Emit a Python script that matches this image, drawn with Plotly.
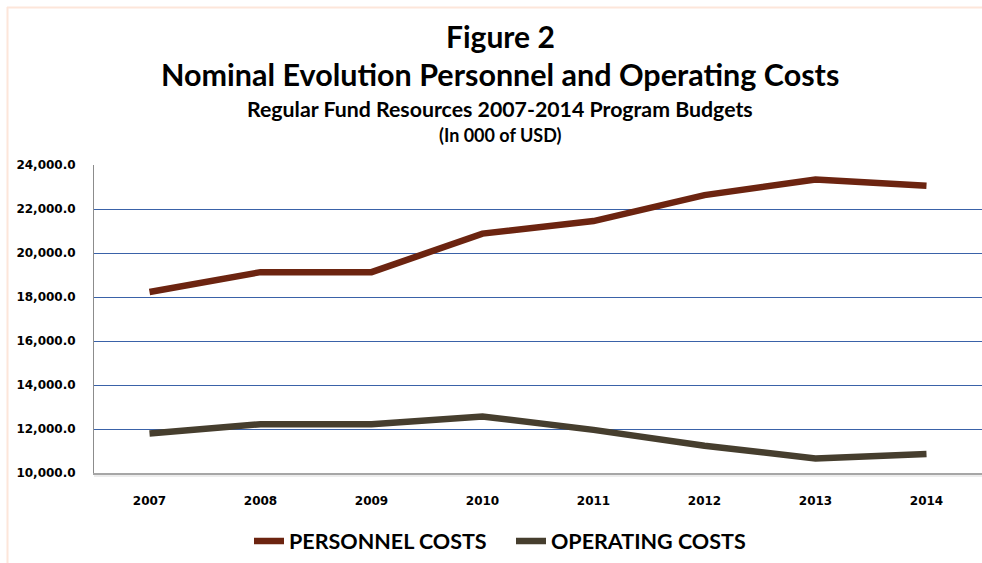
import plotly.graph_objects as go

years = ["2007", "2008", "2009", "2010", "2011", "2012", "2013", "2014"]
personnel_costs = [18230, 19130, 19130, 20880, 21450, 22630, 23340, 23060]
operating_costs = [11800, 12220, 12220, 12570, 11960, 11240, 10660, 10860]
y_ticks = [10000, 12000, 14000, 16000, 18000, 20000, 22000, 24000]
y_tick_labels = ["10,000.0", "12,000.0", "14,000.0", "16,000.0", "18,000.0", "20,000.0", "22,000.0", "24,000.0"]

W, H = 982, 563
L, R, T, B = 94, 0, 165, 90
PW, PH = W - L - R, H - T - B
TITLE_FONT = "Lato"

fig = go.Figure()
fig.add_trace(go.Scatter(x=years, y=personnel_costs, mode="lines", name="PERSONNEL COSTS",
                         line=dict(color="#6c2410", width=6.5)))
fig.add_trace(go.Scatter(x=years, y=operating_costs, mode="lines", name="OPERATING COSTS",
                         line=dict(color="#463e2e", width=6.5)))


def pyf(yp):
    return (H - B - yp) / PH


def pxf(xp):
    return (xp - L) / PW


annos = [
    ("<b>Figure 2</b>", 35.5, 30),
    ("<b>Nominal Evolution Personnel and Operating Costs</b>", 74, 30.5),
    ("<b>Regular Fund Resources 2007-2014 Program Budgets</b>", 109, 21.3),
    ("<b>(In 000 of USD)</b>", 134.5, 18),
]
for txt, yc, sz in annos:
    fig.add_annotation(text=txt, xref="paper", yref="paper", x=pxf(500),
                       y=pyf(yc), xanchor="center", yanchor="middle",
                       showarrow=False, font=dict(family=TITLE_FONT, size=sz, color="#000000"))

# peach frame
fig.add_shape(type="line", xref="paper", yref="paper",
              x0=pxf(7), x1=1.0, y0=pyf(7.5), y1=pyf(7.5),
              line=dict(color="#fde6da", width=2))
fig.add_shape(type="line", xref="paper", yref="paper",
              x0=pxf(7.5), x1=pxf(7.5), y0=pyf(7), y1=pyf(H),
              line=dict(color="#fde6da", width=2))
# soft shadow under x axis
fig.add_shape(type="line", xref="paper", yref="paper",
              x0=0, x1=1.0, y0=pyf(475.5), y1=pyf(475.5),
              line=dict(color="#ececec", width=3), layer="below")

fig.update_layout(
    width=W, height=H,
    margin=dict(l=L, r=R, t=T, b=B, pad=0),
    paper_bgcolor="white", plot_bgcolor="white",
    showlegend=True,
    legend=dict(orientation="h", x=249 / W, xanchor="left", xref="container",
                y=(H - 541) / H, yref="container", yanchor="middle",
                font=dict(family=TITLE_FONT, size=21.5, color="#000000", weight="bold"),
                itemwidth=30, tracegroupgap=0, entrywidth=217, entrywidthmode="pixels"),
    xaxis=dict(type="category", range=[-0.5, 7.5], showgrid=False, zeroline=False,
               showline=True, linecolor="#a6a6a6", linewidth=1.5,
               ticks="", tickfont=dict(family="DejaVu Sans", size=12, color="#000000", weight="bold"),
               ticklabelstandoff=16),
    yaxis=dict(range=[10000, 24000], tickvals=y_ticks, ticktext=y_tick_labels,
               showgrid=True, gridcolor="#3a62a8", gridwidth=1, zeroline=False,
               showline=True, linecolor="#8c8c8c", linewidth=1,
               ticks="", tickfont=dict(family="DejaVu Sans", size=12, color="#000000", weight="bold"),
               ticklabelstandoff=15),
)

fig.write_html("out.html", config={"displayModeBar": False},
               post_script="document.body.style.margin='0';document.body.style.overflow='hidden';")
